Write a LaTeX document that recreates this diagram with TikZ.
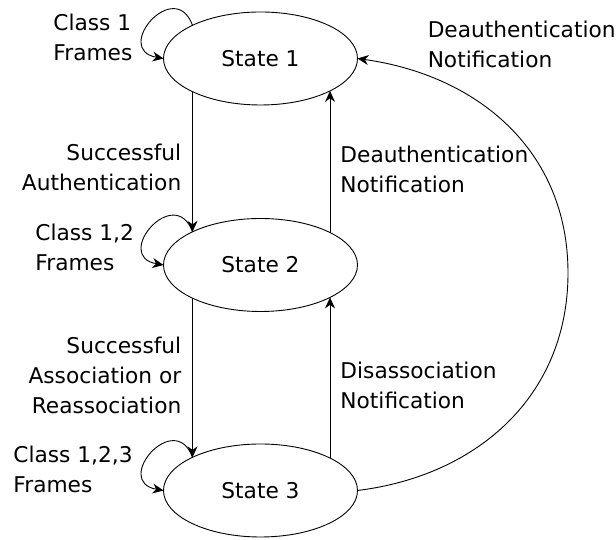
\documentclass[tikz,border=0pt]{standalone}
\usepackage{fontspec}
\setmainfont{DejaVu Sans}
\usetikzlibrary{arrows.meta,shapes.geometric}

\begin{document}
\begin{tikzpicture}[x=1pt,y=1pt,line width=0.9pt,
    >={Stealth[length=11pt,width=10pt]},
    every node/.style={font=\fontsize{21.7}{30}\selectfont},
    state/.style={ellipse,draw,minimum width=194pt,minimum height=93pt,inner sep=0pt,outer sep=0pt},
    lbl/.style={inner sep=0pt}]
    \useasboundingbox (0,0) rectangle (616,540);
    % states
    \node[state] (s1) at (260.5,481.5) {State 1};
    \node[state] (s2) at (260.5,275) {State 2};
    \node[state] (s3) at (260.5,49.5) {State 3};
    % labels
    \node[lbl,anchor=north west,align=left] (cls1) at (53,526.5) {Class 1\\Frames};
    \node[lbl,anchor=north west,align=left] (deauth1) at (427.3,519.8) {Deauthentication\\Notification};
    \node[lbl,anchor=north east,align=right] (auth) at (181.7,396) {Successful\\Authentication};
    \node[lbl,anchor=north west,align=left] (deauth2) at (340,394.5) {Deauthentication\\Notification};
    \node[lbl,anchor=north west,align=left] (cls12) at (35,316) {Class 1,2\\Frames};
    \node[lbl,anchor=north east,align=right] (assoc) at (181.7,203) {Successful\\Association or\\Reassociation};
    \node[lbl,anchor=north west,align=left] (disassoc) at (340,178) {Disassociation\\Notification};
    \node[lbl,anchor=north west,align=left] (cls123) at (13,94.5) {Class 1,2,3\\Frames};
    % transitions
    \draw[->] (s1.154) to[out=110,in=170,distance=52pt] (s1.west);
    \draw[->] (s2.154) to[out=110,in=170,distance=52pt] (s2.west);
    \draw[->] (s3.154) to[out=110,in=170,distance=52pt] (s3.west);
    \draw[->] (s1.206) -- (s2.154);
    \draw[->] (s2.25) -- (s1.-25);
    \draw[->] (s2.206) -- (s3.154);
    \draw[->] (s3.25) -- (s2.-25);
    \coordinate (bend) at (568,267);
    \draw[->] (s3.east) to[out=7,in=-90,distance=122pt] (bend)
        to[out=90,in=-8,distance=122pt] (s1.east);
\end{tikzpicture}
\end{document}
